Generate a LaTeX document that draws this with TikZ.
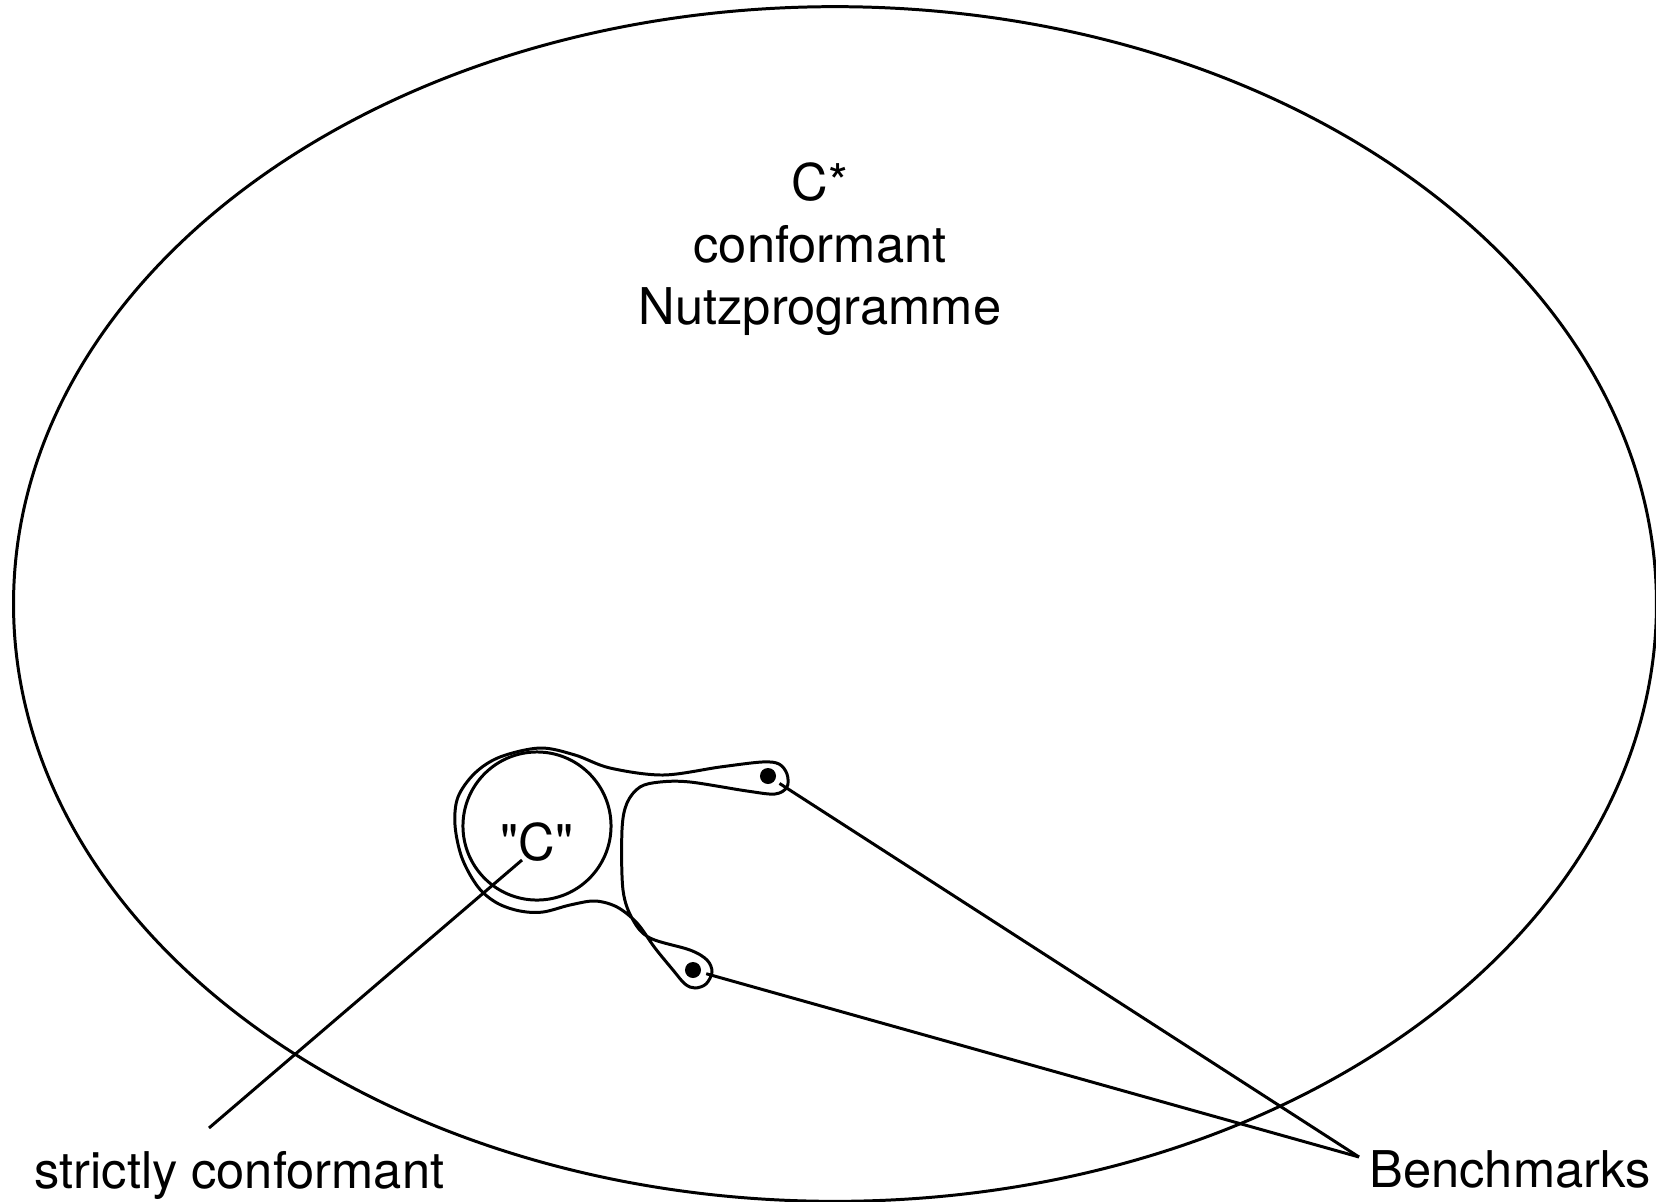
\documentclass[tikz,border=0pt]{standalone}
\usepackage{fontspec}
\setmainfont{TeX Gyre Heros}[Ligatures=TeXOff]
\usetikzlibrary{shapes.geometric}

\begin{document}
\begin{tikzpicture}[x=0.01cm,y=-0.01cm,line width=0.85pt,
    every node/.style={font=\fontsize{14.4}{17.6}\selectfont,inner sep=0pt},
    bdot/.style={shape=circle,fill=black,minimum size=0.16cm},
    leader/.style={draw=black}]
            \useasboundingbox (0,0) rectangle (1656,1202);

            \node[shape=ellipse,draw=black,minimum width=16.42cm,minimum height=11.94cm] (cstar) at (835,604) {};
            \node[align=center] (title) at (820,249) {C*\\conformant\\Nutzprogramme};

            \node[shape=circle,draw=black,minimum size=1.48cm] (c) at (537,826) {};
            \node[] (clabel) at (537,842) {"C"};

            \node[bdot] (b1) at (768,776) {};
            \node[bdot] (b2) at (693,970) {};

            \draw plot[smooth cycle, tension=0.55] coordinates {
                (540,748) (575,755) (610,768) (663,775) (720,767) (762,762)
                (779,764) (787,774) (787,787) (775,794) (747,791) (690,782)
                (660,782) (640,787) (627,803) (622,830) (623,890) (633,920)
                (650,938) (690,950) (707,960) (712,972) (706,984) (695,988)
                (685,984) (673,970) (655,948) (637,923) (617,907) (595,901)
                (570,905) (543,912) (520,911) (497,903) (478,887) (462,858)
                (455,825) (458,797) (475,773) (500,757)};

            \node[anchor=base west] (strict) at (33,1188) {strictly conformant};
            \node[anchor=base west] (benchmarks) at (1368,1187) {Benchmarks};

            \coordinate (cstart) at (522,860);
            \coordinate (cfoot) at (209,1128);
            \coordinate (bjoin) at (1359,1157);

            \path [leader] (cstart) edge (cfoot);
            \path [leader] (b1) edge [shorten <=1.2pt] (bjoin);
            \path [leader] (b2) edge [shorten <=1.2pt] (bjoin);
\end{tikzpicture}
\end{document}
